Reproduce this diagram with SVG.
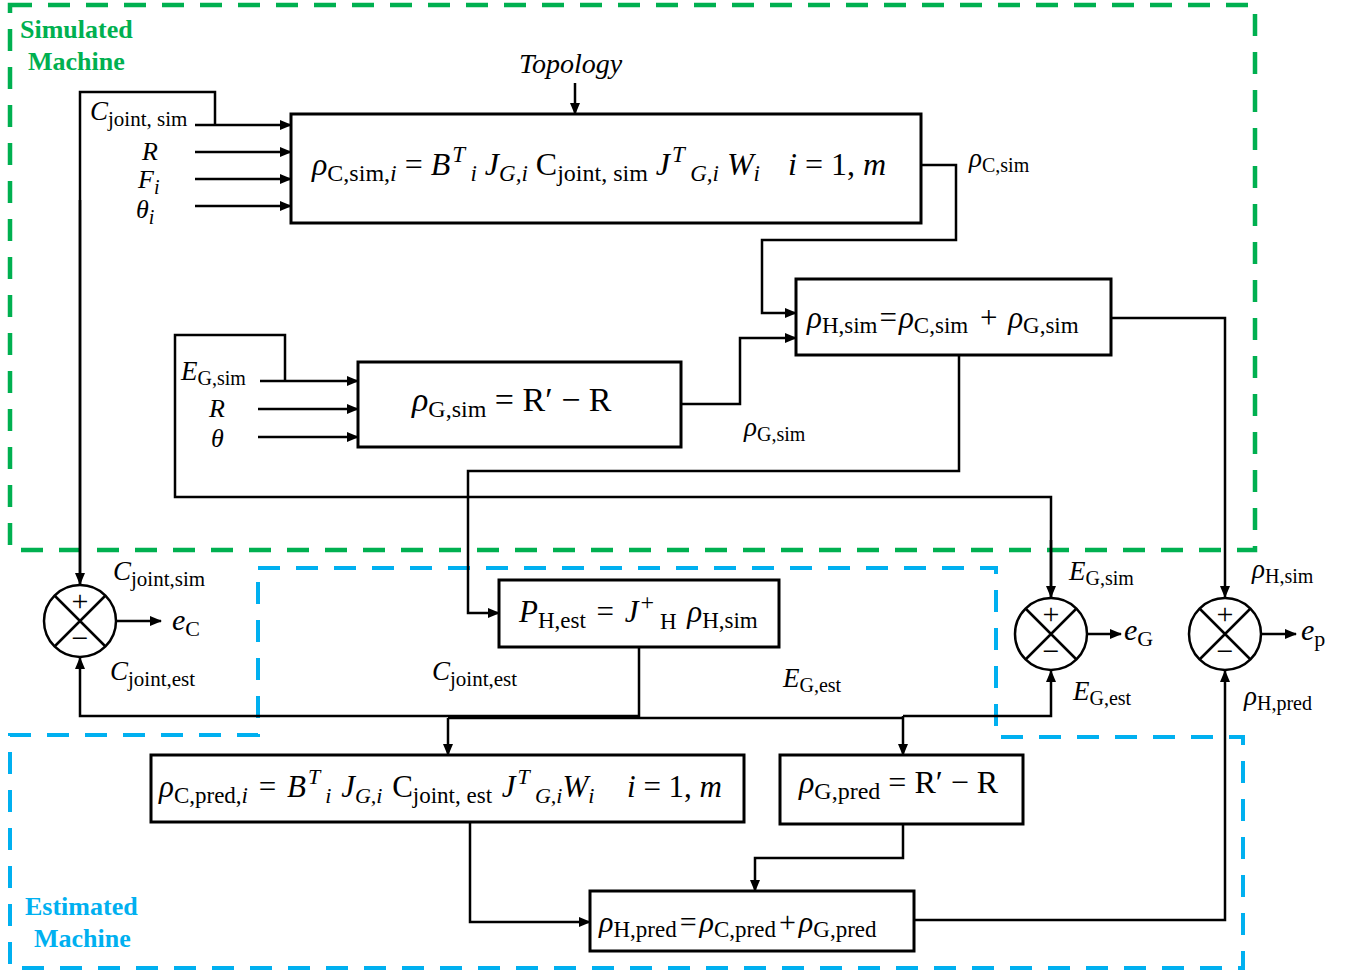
<svg xmlns="http://www.w3.org/2000/svg" width="1354" height="976" viewBox="0 0 1354 976">
<style>
.t{font-family:"Liberation Serif","DejaVu Serif",serif;fill:#000}
.i{font-style:italic}
.box{fill:#fff;stroke:#000;stroke-width:3}
.ln{fill:none;stroke:#000;stroke-width:2.5}
.ar{fill:none;stroke:#000;stroke-width:2.5;marker-end:url(#ah)}
.sum{fill:#fff;stroke:#000;stroke-width:2.5}
.grp{font-family:"Liberation Serif","DejaVu Serif",serif;font-weight:bold;font-size:26px}
</style>
<defs>
<marker id="ah" markerUnits="userSpaceOnUse" markerWidth="12" markerHeight="10" refX="11" refY="5" orient="auto">
<path d="M0,0 L12,5 L0,10 Z" fill="#000"/>
</marker>
</defs>
<rect x="0" y="0" width="1354" height="976" fill="#fff"/>

<g id="simulated-machine">
<rect x="10" y="5" width="1245" height="545" fill="none" stroke="#00B050" stroke-width="4.5" stroke-dasharray="22 16"/>
<text class="grp" x="20" y="38" fill="#00B050">Simulated</text>
<text class="grp" x="28" y="70" fill="#00B050">Machine</text>
</g>
<g id="estimated-machine">
<path d="M258,568 H996 V737 H1243 V968 H10 V735 H258 Z" fill="none" stroke="#00B0F0" stroke-width="4" stroke-dasharray="22 16"/>
<text class="grp" x="25" y="915" fill="#00B0F0">Estimated</text>
<text class="grp" x="34" y="947" fill="#00B0F0">Machine</text>
</g>

<g id="connectors">
<path class="ln" d="M80,597 V92 H215 V125"/>
<path class="ar" d="M80,200 V584"/>
<path class="ar" d="M195,125 H291"/>
<path class="ar" d="M195,152 H291"/>
<path class="ar" d="M195,179 H291"/>
<path class="ar" d="M195,206 H291"/>
<path class="ar" d="M575,83 V114"/>
<path class="ar" d="M921,165 H956 V240 H762 V313 H796"/>
<path class="ar" d="M681,404 H740 V338 H796"/>
<path class="ar" d="M1111,318 H1225 V597"/>
<path class="ln" d="M285,381 V335 H175 V497 H1051 V597"/>
<path class="ar" d="M1051,540 V597"/>
<path class="ar" d="M260,381 H358"/>
<path class="ar" d="M258,409 H358"/>
<path class="ar" d="M258,437 H358"/>
<path class="ar" d="M959,355 V471 H468 V613 H499"/>
<path class="ar" d="M639,647 V716 H80 V658"/>
<path class="ar" d="M448,718 V755"/>
<path class="ln" d="M448,718 H903"/>
<path class="ar" d="M903,716 H1051 V671"/>
<path class="ar" d="M903,716 V755"/>
<path class="ar" d="M470,822 V922 H590"/>
<path class="ar" d="M903,824 V858 H755 V891"/>
<path class="ar" d="M914,920 H1225 V671"/>
<path class="ar" d="M117,621 H161"/>
<path class="ar" d="M1088,634 H1121"/>
<path class="ar" d="M1262,634 H1296"/>
</g>

<g id="labels" class="t">
<text class="i" x="519" y="73" font-size="28">Topology</text>
<text x="90" y="120" font-size="27"><tspan class="i">C</tspan><tspan font-size="21" dy="6">joint, sim</tspan></text>
<text class="i" x="142" y="160" font-size="26">R</text>
<text class="i" x="138" y="188" font-size="26">F<tspan font-size="20" dy="6">i</tspan></text>
<text class="i" x="136" y="218" font-size="26">θ<tspan font-size="20" dy="6">i</tspan></text>
<text x="969" y="167" font-size="27"><tspan class="i">ρ</tspan><tspan font-size="20" dy="5">C,sim</tspan></text>
<text x="181" y="380" font-size="27"><tspan class="i">E</tspan><tspan font-size="20" dy="5">G,sim</tspan></text>
<text class="i" x="209" y="417" font-size="26">R</text>
<text class="i" x="211" y="447" font-size="26">θ</text>
<text x="744" y="436" font-size="27"><tspan class="i">ρ</tspan><tspan font-size="20" dy="5">G,sim</tspan></text>
<text x="113" y="580" font-size="27"><tspan class="i">C</tspan><tspan font-size="21" dy="6">joint,sim</tspan></text>
<text x="172" y="630" font-size="30"><tspan class="i">e</tspan><tspan font-size="22" dy="6">C</tspan></text>
<text x="110" y="680" font-size="27"><tspan class="i">C</tspan><tspan font-size="21" dy="6">joint,est</tspan></text>
<text x="432" y="680" font-size="27"><tspan class="i">C</tspan><tspan font-size="21" dy="6">joint,est</tspan></text>
<text x="783" y="687" font-size="27"><tspan class="i">E</tspan><tspan font-size="20" dy="5">G,est</tspan></text>
<text x="1069" y="580" font-size="27"><tspan class="i">E</tspan><tspan font-size="20" dy="5">G,sim</tspan></text>
<text x="1124" y="640" font-size="30"><tspan class="i">e</tspan><tspan font-size="22" dy="6">G</tspan></text>
<text x="1073" y="700" font-size="27"><tspan class="i">E</tspan><tspan font-size="20" dy="5">G,est</tspan></text>
<text x="1252" y="578" font-size="27"><tspan class="i">ρ</tspan><tspan font-size="20" dy="5">H,sim</tspan></text>
<text x="1301" y="640" font-size="30"><tspan class="i">e</tspan><tspan font-size="22" dy="6">p</tspan></text>
<text x="1244" y="705" font-size="27"><tspan class="i">ρ</tspan><tspan font-size="20" dy="5">H,pred</tspan></text>
</g>

<g id="node-csim">
<rect class="box" x="291" y="114" width="630" height="109"/>
<text class="t" x="312" y="175" font-size="32"><tspan class="i">ρ</tspan><tspan font-size="24" dy="6">C,sim,<tspan class="i">i</tspan></tspan><tspan dy="-6"> = </tspan><tspan class="i">B</tspan><tspan class="i" font-size="23" dy="-13" dx="2">T</tspan><tspan class="i" font-size="23" dy="19"> i</tspan><tspan class="i" dy="-6"> J</tspan><tspan class="i" font-size="23" dy="6">G,i</tspan><tspan dy="-6"> C</tspan><tspan font-size="24" dy="6">joint, sim</tspan><tspan class="i" dy="-6"> J</tspan><tspan class="i" font-size="23" dy="-13" dx="2">T</tspan><tspan class="i" font-size="23" dy="19"> G,i</tspan><tspan class="i" dy="-6"> W</tspan><tspan class="i" font-size="23" dy="6">i</tspan></text>
<text class="t" x="788" y="175" font-size="32"><tspan class="i">i</tspan> = 1, <tspan class="i">m</tspan></text>
</g>

<g id="node-hsim">
<rect class="box" x="796" y="279" width="315" height="76"/>
<text class="t" x="807" y="328" font-size="31"><tspan class="i">ρ</tspan><tspan font-size="23" dy="5">H,sim</tspan><tspan dy="-5" dx="2">=</tspan><tspan class="i" dx="2">ρ</tspan><tspan font-size="23" dy="5">C,sim</tspan><tspan dy="-5" dx="4"> + </tspan><tspan class="i" dx="3">ρ</tspan><tspan font-size="23" dy="5">G,sim</tspan></text>
</g>

<g id="node-gsim">
<rect class="box" x="358" y="362" width="323" height="85"/>
<text class="t" x="412" y="411" font-size="34"><tspan class="i">ρ</tspan><tspan font-size="24" dy="6">G,sim</tspan><tspan dy="-6"> = R′ − R</tspan></text>
</g>

<g id="node-hest">
<rect class="box" x="499" y="580" width="280" height="67"/>
<text class="t" x="519" y="622" font-size="31"><tspan class="i">P</tspan><tspan font-size="23" dy="6">H,est</tspan><tspan dy="-6" dx="3"> = </tspan><tspan class="i" dx="3">J</tspan><tspan font-size="24" dy="-12" dx="2">+</tspan><tspan font-size="23" dy="19"> H</tspan><tspan class="i" dy="-7" dx="3"> ρ</tspan><tspan font-size="23" dy="6">H,sim</tspan></text>
</g>

<g id="node-cpred">
<rect class="box" x="151" y="755" width="593" height="67"/>
<text class="t" x="159" y="797" font-size="31"><tspan class="i">ρ</tspan><tspan font-size="23" dy="6">C,pred,<tspan class="i">i</tspan></tspan><tspan dy="-6" dx="3"> = </tspan><tspan class="i" dx="3">B</tspan><tspan class="i" font-size="22" dy="-13" dx="2">T</tspan><tspan class="i" font-size="22" dy="19"> i</tspan><tspan class="i" dy="-6" dx="2"> J</tspan><tspan class="i" font-size="22" dy="6">G,i</tspan><tspan dy="-6" dx="2"> C</tspan><tspan font-size="23" dy="6">joint, est</tspan><tspan class="i" dy="-6" dx="2"> J</tspan><tspan class="i" font-size="22" dy="-13" dx="2">T</tspan><tspan class="i" font-size="22" dy="19"> G,i</tspan><tspan class="i" dy="-6">W</tspan><tspan class="i" font-size="22" dy="6">i</tspan></text>
<text class="t" x="627" y="797" font-size="31"><tspan class="i">i</tspan> = 1, <tspan class="i">m</tspan></text>
</g>

<g id="node-gpred">
<rect class="box" x="780" y="755" width="243" height="69"/>
<text class="t" x="799" y="793" font-size="32"><tspan class="i">ρ</tspan><tspan font-size="24" dy="6">G,pred</tspan><tspan dy="-6"> = R′ − R</tspan></text>
</g>

<g id="node-hpred">
<rect class="box" x="590" y="891" width="324" height="60"/>
<text class="t" x="599" y="932" font-size="30"><tspan class="i">ρ</tspan><tspan font-size="23" dy="5">H,pred</tspan><tspan dy="-5" dx="3">=</tspan><tspan class="i" dx="3">ρ</tspan><tspan font-size="23" dy="5">C,pred</tspan><tspan dy="-5" dx="3">+</tspan><tspan class="i" dx="3">ρ</tspan><tspan font-size="23" dy="5">G,pred</tspan></text>
</g>

<g id="sum-c">
<circle class="sum" cx="80" cy="621" r="36"/>
<path class="ln" d="M54.5,595.5 L105.5,646.5 M105.5,595.5 L54.5,646.5"/>
<text class="t" x="80" y="611" font-size="30" text-anchor="middle">+</text>
<text class="t" x="80" y="648" font-size="30" text-anchor="middle">−</text>
</g>
<g id="sum-g">
<circle class="sum" cx="1051" cy="634" r="36"/>
<path class="ln" d="M1025.5,608.5 L1076.5,659.5 M1076.5,608.5 L1025.5,659.5"/>
<text class="t" x="1051" y="624" font-size="30" text-anchor="middle">+</text>
<text class="t" x="1051" y="661" font-size="30" text-anchor="middle">−</text>
</g>
<g id="sum-p">
<circle class="sum" cx="1225" cy="634" r="36"/>
<path class="ln" d="M1199.5,608.5 L1250.5,659.5 M1250.5,608.5 L1199.5,659.5"/>
<text class="t" x="1225" y="624" font-size="30" text-anchor="middle">+</text>
<text class="t" x="1225" y="661" font-size="30" text-anchor="middle">−</text>
</g>
</svg>
